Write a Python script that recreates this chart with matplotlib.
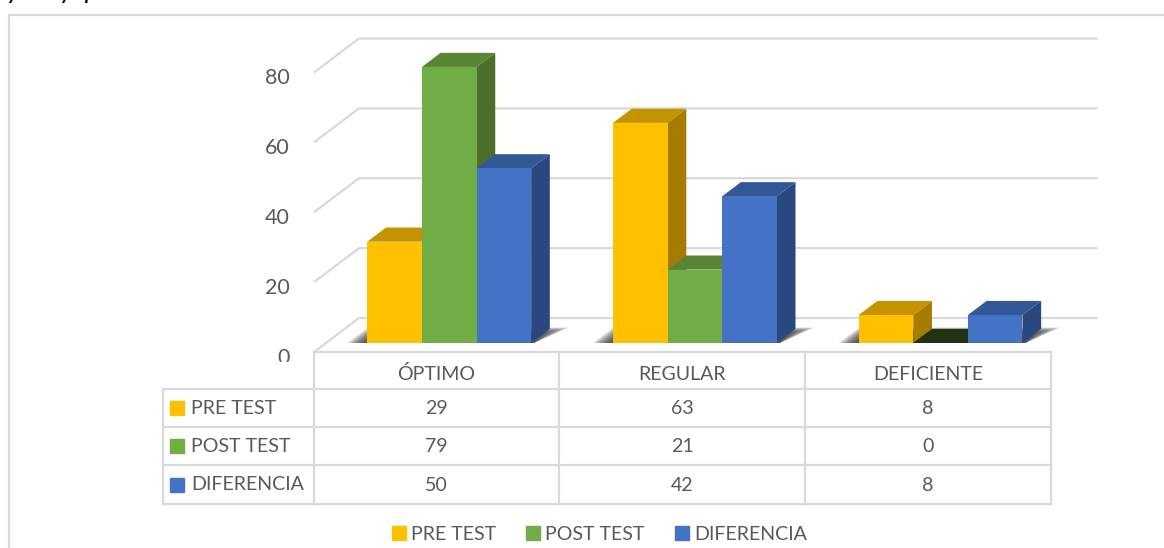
"""3D-style clustered bars with a data table below."""
import matplotlib

matplotlib.use("Agg")
import matplotlib.pyplot as plt  # noqa: E402
from matplotlib.patches import Polygon, Rectangle  # noqa: E402

plt.rcParams["font.family"] = ["Lato", "DejaVu Sans"]

categories = ["ÓPTIMO", "REGULAR", "DEFICIENTE"]
series_names = ["PRE TEST", "POST TEST", "DIFERENCIA"]
pre_test = [29, 63, 8]
post_test = [79, 21, 0]
diferencia = [50, 42, 8]
y_ticks = [0, 20, 40, 60, 80]

W, H = 1164, 548
TEXT = "#595959"
LINE = "#d9d9d9"
FRONT = ["#ffc000", "#70ad47", "#4472c4"]
TOP = ["#c49300", "#5a8535", "#335896"]
SIDE = ["#a67c00", "#4c7029", "#2a4880"]
ZERO_TOP = "#223114"

# axis box in pixels
X0, X1 = 314, 1051
Y0 = 352
PX_PER_UNIT = 3.494
Y1 = Y0 - 80 * PX_PER_UNIT
PX_PER_CAT = (X1 - X0) / 3

# oblique projection of the depth direction, in data units
DEPTH_X = 45 / PX_PER_CAT
DEPTH_Y = 34 / PX_PER_UNIT
BAR_W = 54.6 / PX_PER_CAT
D_FRONT, D_BACK = 0.265, 0.68


def proj(x, v, d):
    return (x + DEPTH_X * d, v + DEPTH_Y * d)


fig = plt.figure(figsize=(W / 100, H / 100), dpi=100)
fig.patch.set_facecolor("white")
# pixel coordinates for frame, table and legend
bg = fig.add_axes([0, 0, 1, 1])
bg.set_xlim(0, W)
bg.set_ylim(H, 0)
bg.axis("off")
ax = fig.add_axes([X0 / W, 1 - Y0 / H, (X1 - X0) / W, (Y0 - Y1) / H])
ax.set_xlim(0, 3)
ax.set_ylim(0, 80)
ax.axis("off")

# outer frame, open on the right
bg.plot([9, 9, W], [H, 15, 15], color=LINE, lw=1.6)
# caption above the frame, cropped by the picture edge
for x, s in zip([7, 60, 84], ["y", "y", "p"]):
    bg.text(x, 0, s, fontsize=14, fontweight="bold", fontstyle="italic",
            color="black", ha="left", va="baseline")

# gridlines: slanted wall edge and back line
for v in y_ticks:
    a = proj(0, v, 0)
    b = proj(0, v, 1)
    ax.plot([a[0], b[0], 3.19], [a[1], b[1], b[1]], color=LINE, lw=1.6,
            clip_on=False, zorder=1, solid_capstyle="butt")
    bg.text(290, Y0 - v * PX_PER_UNIT + 6, str(v), fontsize=15.5, color=TEXT,
            ha="right", va="center")
bg.add_patch(Rectangle((270, 362), 40, 20, color="white", zorder=3))

values = [pre_test, post_test, diferencia]
for i in range(len(categories)):
    left = i + 0.5 - 1.5 * BAR_W + 0.5 / PX_PER_CAT
    # soft floor shadow under the cluster
    for k in range(9):
        g = k * 2.2 / PX_PER_CAT
        xa = left - 20 / PX_PER_CAT + g
        xb = left + 3 * BAR_W + 3 / PX_PER_CAT
        xc = left + 3 * BAR_W + 17 / PX_PER_CAT - g
        back = D_BACK + 0.04 - k * 0.02
        poly = [proj(xa, 0, D_FRONT), proj(xb, 0, D_FRONT),
                proj(xc, 0, back), proj(xa, 0, back)]
        ax.add_patch(Polygon(poly, closed=True, fc="#303030", ec="none",
                             alpha=0.17, zorder=2, clip_on=False))
    for s, vals in enumerate(values):
        v = vals[i]
        x = left + s * BAR_W
        base = DEPTH_Y * D_FRONT
        f = proj(x, v, D_FRONT)
        if v == 0:
            top = [proj(x, 0, D_FRONT), proj(x + BAR_W, 0, D_FRONT),
                   proj(x + BAR_W, 0, D_BACK), proj(x, 0, D_BACK)]
            ax.add_patch(Polygon(top, closed=True, fc=ZERO_TOP, ec="none",
                                 zorder=3 + s, clip_on=False))
            continue
        top = [proj(x, v, D_FRONT), proj(x + BAR_W, v, D_FRONT),
               proj(x + BAR_W, v, D_BACK), proj(x, v, D_BACK)]
        side = [proj(x + BAR_W, 0, D_FRONT), proj(x + BAR_W, v, D_FRONT),
                proj(x + BAR_W, v, D_BACK), proj(x + BAR_W, 0, D_BACK)]
        ax.add_patch(Polygon(side, closed=True, fc=SIDE[s], ec="none",
                             zorder=3 + s, clip_on=False))
        ax.add_patch(Polygon(top, closed=True, fc=TOP[s], ec="none",
                             zorder=3 + s, clip_on=False))
        ax.bar(f[0], v, width=BAR_W, bottom=base, align="edge", color=FRONT[s],
               zorder=3 + s + 0.5, clip_on=False)

# data table
col_x = [163, 314, 559, 805, 1051]
row_y = [352, 389, 427, 465, 504]
for y in row_y[1:]:
    bg.plot([col_x[0], col_x[-1]], [y, y], color=LINE, lw=1.6, zorder=2)
bg.plot([col_x[1], col_x[-1]], [row_y[0], row_y[0]], color=LINE, lw=1.6, zorder=2)
bg.plot([col_x[0], col_x[0]], [row_y[1], row_y[-1]], color=LINE, lw=1.6, zorder=2)
for x in col_x[1:]:
    bg.plot([x, x], [row_y[0], row_y[-1]], color=LINE, lw=1.6, zorder=2)

for c, name in enumerate(categories):
    cx = (col_x[c + 1] + col_x[c + 2]) / 2
    bg.text(cx, (row_y[0] + row_y[1]) / 2 + 3.5, name, fontsize=14.1, color=TEXT,
            ha="center", va="center")
for r, name in enumerate(series_names):
    cy = (row_y[r + 1] + row_y[r + 2]) / 2
    bg.add_patch(Rectangle((170, cy - 7), 14, 14, color=FRONT[r], zorder=3))
    bg.text(191, cy, name, fontsize=14.1, color=TEXT, ha="left", va="center")
    for c in range(len(categories)):
        cx = (col_x[c + 1] + col_x[c + 2]) / 2
        bg.text(cx, cy + 1, str(values[r][c]), fontsize=14.1, color=TEXT,
                ha="center", va="center")

# legend
legend_x = [392, 526, 675]
for x, name, color in zip(legend_x, series_names, FRONT):
    bg.add_patch(Rectangle((x, 526), 14, 14, color=color, zorder=3))
    bg.text(x + 19, 535, name, fontsize=14.1, color=TEXT, ha="left", va="center")

fig.savefig("out.png", dpi=100)
plt.close(fig)
